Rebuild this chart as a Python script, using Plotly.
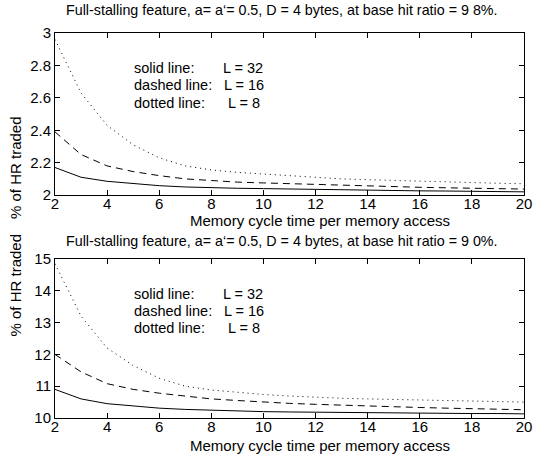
import plotly.graph_objects as go

x = [2, 3, 4, 5, 6, 7, 8, 9, 10, 11, 12, 13, 14, 15, 16, 17, 18, 19, 20]

top_dotted = [2.96, 2.63, 2.43, 2.31, 2.23, 2.18, 2.155, 2.14, 2.13, 2.12, 2.11, 2.10, 2.095, 2.09, 2.085, 2.08, 2.077, 2.073, 2.07]
top_dashed = [2.39, 2.25, 2.18, 2.145, 2.12, 2.10, 2.09, 2.08, 2.075, 2.07, 2.065, 2.06, 2.055, 2.05, 2.048, 2.045, 2.042, 2.04, 2.037]
top_solid = [2.17, 2.11, 2.085, 2.07, 2.058, 2.05, 2.045, 2.042, 2.04, 2.037, 2.035, 2.032, 2.03, 2.028, 2.026, 2.025, 2.024, 2.022, 2.02]

bot_dotted = [14.85, 13.2, 12.2, 11.65, 11.25, 11.0, 10.88, 10.8, 10.74, 10.69, 10.65, 10.62, 10.6, 10.58, 10.56, 10.55, 10.53, 10.52, 10.5]
bot_dashed = [12.0, 11.45, 11.08, 10.9, 10.78, 10.68, 10.6, 10.55, 10.5, 10.46, 10.43, 10.4, 10.37, 10.35, 10.33, 10.31, 10.3, 10.28, 10.26]
bot_solid = [10.9, 10.6, 10.45, 10.37, 10.31, 10.27, 10.24, 10.22, 10.2, 10.19, 10.18, 10.17, 10.16, 10.16, 10.15, 10.15, 10.14, 10.14, 10.13]

titles = ["Full-stalling feature, a= a\u2018= 0.5, D = 4 bytes, at base hit ratio = 9 8%.",
          "Full-stalling feature, a= a\u2018= 0.5, D = 4 bytes, at base hit ratio = 9 0%."]
legend_left = ["solid line:", "dashed line:", "dotted line:"]
legend_right = ["L = 32", "L = 16", "L = 8"]
x_title = "Memory cycle time per memory access"
y_title = "% of HR traded"

FONT = "Liberation Sans, Arial, sans-serif"

fig = go.Figure()

def add_series(xa, ya, ys, dashes):
    for y, d in zip(ys, dashes):
        fig.add_trace(go.Scatter(x=x, y=y, mode="lines", xaxis=xa, yaxis=ya,
                                 line=dict(color="black", width=1, dash=d),
                                 showlegend=False, hoverinfo="skip"))

styles = ["solid", "7px,5px", "1px,4px"]
add_series("x", "y", [top_solid, top_dashed, top_dotted], styles)
add_series("x2", "y2", [bot_solid, bot_dashed, bot_dotted], styles)

axis_common = dict(showline=True, linecolor="black", linewidth=1, mirror="ticks",
                   ticks="inside", ticklen=5, tickcolor="black", showgrid=False,
                   zeroline=False, tickfont=dict(family=FONT, size=15, color="black"))

fig.update_layout(
    width=541, height=455,
    margin=dict(l=55, r=9, t=33, b=37),
    paper_bgcolor="white", plot_bgcolor="white",
    font=dict(family=FONT, color="black"),
    xaxis=dict(domain=[0, 1], anchor="y", range=[2, 20], tickvals=list(range(2, 21, 2)),
               ticklabelstandoff=-5, **axis_common),
    yaxis=dict(domain=[0.579, 1], anchor="x", range=[2, 3], tickvals=[2, 2.2, 2.4, 2.6, 2.8, 3],
               ticktext=["2", "2.2", "2.4", "2.6", "2.8", "3"], ticklabelstandoff=0, **axis_common),
    xaxis2=dict(domain=[0, 1], anchor="y2", range=[2, 20], tickvals=list(range(2, 21, 2)),
                ticklabelstandoff=-5, **axis_common),
    yaxis2=dict(domain=[0, 0.413], anchor="x2", range=[10, 15], tickvals=[10, 11, 12, 13, 14, 15],
                ticklabelstandoff=0, **axis_common),
)

ann = []
ann.append(dict(text=titles[0], x=0.483, y=1, xref="paper", yref="paper", yanchor="bottom", yshift=13,
                showarrow=False, font=dict(family=FONT, size=14.3)))
ann.append(dict(text=titles[1], x=0.483, y=0.413, xref="paper", yref="paper", yanchor="bottom", yshift=8,
                showarrow=False, font=dict(family=FONT, size=14.3)))
for yr, ys in [(0.579, -15), (0, -17)]:
    ann.append(dict(text=x_title, x=0.566, y=yr, xref="paper", yref="paper", yanchor="top", yshift=ys,
                    showarrow=False, font=dict(family=FONT, size=15)))
for yc in [(0.579 + 1) / 2, 0.413 / 2]:
    ann.append(dict(text=y_title, x=0, y=yc, xref="paper", yref="paper", xanchor="right", xshift=-29,
                    textangle=-90, showarrow=False, font=dict(family=FONT, size=15)))
for (xa, ya, ytop, step) in [("x", "y", 2.785, 0.107), ("x2", "y2", 13.89, 0.535)]:
    for i, xr in enumerate([8.38, 8.42, 8.57]):
        ann.append(dict(text=legend_left[i], x=4.95, y=ytop - i * step, xref=xa, yref=ya,
                        xanchor="left", yanchor="middle", showarrow=False, font=dict(family=FONT, size=14.5)))
        ann.append(dict(text=legend_right[i], x=xr, y=ytop - i * step, xref=xa, yref=ya,
                        xanchor="left", yanchor="middle", showarrow=False, font=dict(family=FONT, size=14.5)))

fig.update_layout(annotations=ann)
fig.write_html("out.html")
